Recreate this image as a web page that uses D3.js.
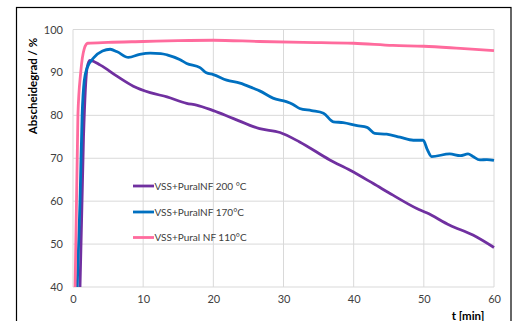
<!DOCTYPE html>
<html><head><meta charset="utf-8">
<script src="https://cdn.jsdelivr.net/npm/d3@7"></script>
<style>body{margin:0;background:#fff;} text{font-family:Lato,"Open Sans",sans-serif;}</style>
</head><body>
<svg id="c" width="519" height="321"></svg>
<script>
const xTicks = [0,10,20,30,40,50,60];
const yTicks = [40,50,60,70,80,90,100];
const seriesNames = ["VSS+PuralNF 200 °C","VSS+PuralNF 170°C","VSS+Pural NF 110°C"];
const seriesColors = ["#7030a0","#0070c0","#ff6b9d"];
const purple = [[1.0,40],[1.5,75],[2.0,91],[2.4,92.8],[3.9,91.7],[6.2,89.2],[8.6,86.8],[11,85.3],[13.4,84.3],[16.2,82.8],[17.6,82.4],[20,81.1],[22.8,79.3],[26.6,76.9],[29.5,76.0],[32.3,73.8],[36.6,69.6],[39.5,67.2],[42.8,64.1],[45.6,61.4],[49,58.3],[50.4,57.3],[53.7,54.4],[57,52.1],[60,49.2]];
const blue = [[0.6,40],[1.0,60],[1.3,80],[1.6,88],[2.0,91],[3.0,93.5],[4.2,95],[5.3,95.4],[6.3,94.8],[7.9,93.5],[9.5,94.2],[11,94.5],[12.5,94.4],[13.4,94.1],[15.2,93],[16.2,92.1],[18.1,91.1],[19,89.9],[20,89.5],[21.9,88.2],[23.8,87.5],[25.7,86.3],[26.6,85.7],[28.5,84],[30.4,83.2],[31.3,82.6],[32.3,81.6],[34,81.1],[35.7,80.5],[37.1,78.5],[38.5,78.3],[40.5,77.6],[41.9,77.2],[43.0,75.8],[44.7,75.6],[46.6,74.9],[48.5,74.2],[49.9,74.2],[50.5,72],[51.1,70.4],[53.7,71],[55.2,70.6],[56.3,71],[57,70.4],[58,69.6],[59,69.7],[60,69.5]];
const pink = [[0.3,40],[0.7,80],[1.1,90],[1.6,95.5],[2.1,96.8],[5,97],[10,97.2],[15,97.4],[20,97.5],[26.6,97.2],[32.8,97.0],[40,96.8],[45.6,96.3],[50,96.1],[55.2,95.6],[60,95.1]];
const seriesData = [purple, blue, pink];

const svg = d3.select("#c");
const L=73, R=494, T=29.5, B=287;
const x = d3.scaleLinear().domain([0,60]).range([L,R]);
const y = d3.scaleLinear().domain([40,100]).range([B,T]);

svg.append("rect").attr("x",16.5).attr("y",7.5).attr("width",494.5).attr("height",330)
  .attr("fill","none").attr("stroke","#000").attr("stroke-width",1.2);

// grid
svg.append("g").selectAll("line").data(yTicks).join("line")
  .attr("x1",L).attr("x2",R).attr("y1",d=>y(d)).attr("y2",d=>y(d))
  .attr("stroke","#d9d9d9").attr("stroke-width",1);
svg.append("g").selectAll("line").data(xTicks).join("line")
  .attr("y1",T).attr("y2",B).attr("x1",d=>x(d)).attr("x2",d=>x(d))
  .attr("stroke","#d9d9d9").attr("stroke-width",1);

// axes labels
const ya = svg.append("g").attr("transform",`translate(${L},0)`)
  .call(d3.axisLeft(y).tickValues(yTicks).tickSize(0).tickPadding(10));
ya.select(".domain").remove();
ya.selectAll("text").attr("font-size",11).attr("fill","#404040").attr("font-family","Lato, sans-serif");
const xa = svg.append("g").attr("transform",`translate(0,${B})`)
  .call(d3.axisBottom(x).tickValues(xTicks).tickSize(0).tickPadding(8));
xa.select(".domain").remove();
xa.selectAll("text").attr("font-size",11).attr("fill","#404040").attr("font-family","Lato, sans-serif");

// titles
svg.append("text").attr("transform","translate(37,86) rotate(-90)").attr("text-anchor","middle")
  .attr("font-size",11.5).attr("font-weight","bold").attr("fill","#000").text("Abscheidegrad / %");
svg.append("text").attr("x",468).attr("y",320).attr("text-anchor","middle")
  .attr("font-size",11.5).attr("font-weight","bold").attr("fill","#000").text("t [min]");

// lines
const line = d3.line().x(d=>x(d[0])).y(d=>y(d[1])).curve(d3.curveMonotoneX);
svg.append("defs").append("clipPath").attr("id","clp").append("rect")
  .attr("x",L-5).attr("y",T-5).attr("width",R-L+10).attr("height",B-T+5);
const gl = svg.append("g").attr("clip-path","url(#clp)");
[0,1,2].forEach(i=>{
  gl.append("path").datum(seriesData[i]).attr("d",line).attr("fill","none")
    .attr("stroke",seriesColors[i]).attr("stroke-width",2.8).attr("stroke-linejoin","round");
});

// legend
const legY=[186,212,237.5];
seriesNames.forEach((n,i)=>{
  svg.append("line").attr("x1",133).attr("x2",154).attr("y1",legY[i]).attr("y2",legY[i])
    .attr("stroke",seriesColors[i]).attr("stroke-width",2.8);
  svg.append("text").attr("x",154.5).attr("y",legY[i]+3.6).attr("font-size",10)
    .attr("fill","#404040").text(n);
});
</script>
</body></html>
